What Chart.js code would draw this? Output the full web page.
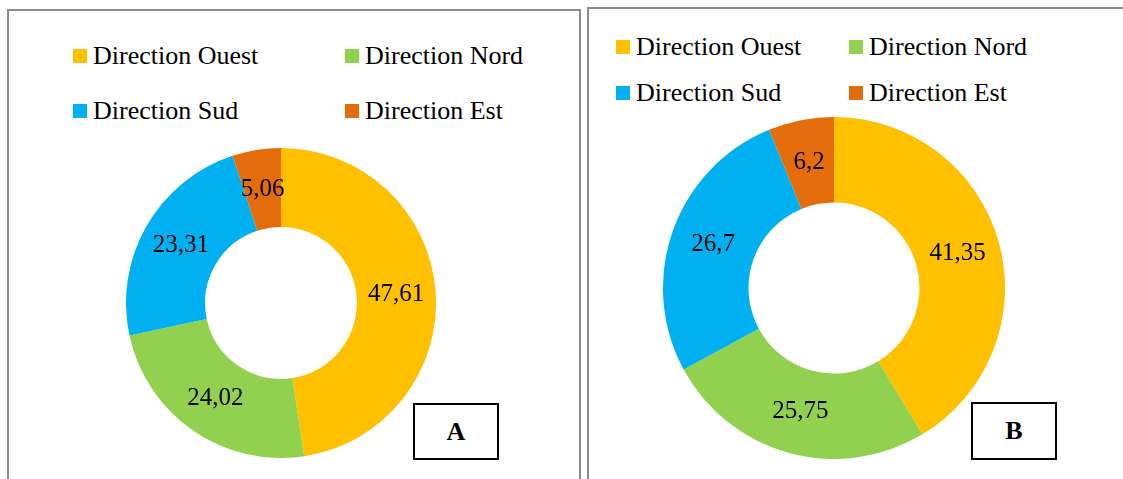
<!DOCTYPE html>
<html>
<head>
<meta charset="utf-8">
<script src="https://cdn.jsdelivr.net/npm/chart.js@4"></script>
<style>
  html, body { margin: 0; padding: 0; background: #fff; }
  body { width: 1123px; height: 479px; position: relative; overflow: hidden;
         font-family: 'Liberation Serif', 'Times New Roman', serif; }
  .panel { position: absolute; border: 2px solid #8c8c8c; box-sizing: border-box; background: #fff; }
  .chartbox { position: absolute; }
  .legend-item { position: absolute; display: flex; align-items: center; font-size: 26px; color: #000;
                 white-space: nowrap; line-height: 1; }
  .legend-item .sw { width: 14px; height: 14px; margin-right: 6px; flex: none; }
  .tag { position: absolute; border: 2px solid #000; box-sizing: border-box; background: #fff;
         display: flex; align-items: center; justify-content: center;
         font-weight: bold; font-size: 26px; }
</style>
</head>
<body>
<div class="panel" style="left:7px; top:9px; width:574px; height:490px;"></div>
<div class="panel" style="left:587px; top:7px; width:560px; height:490px;"></div>

<canvas id="chartA" class="chartbox" style="left:126px; top:148px;" width="310" height="310"></canvas>
<canvas id="chartB" class="chartbox" style="left:663px; top:117px;" width="342" height="342"></canvas>

<div class="tag" style="left:413px; top:403px; width:86px; height:57px;">A</div>
<div class="tag" style="left:971px; top:402px; width:86px; height:58px;">B</div>

<script>
// categories and values read from the two doughnuts
const categories = ['Direction Ouest', 'Direction Nord', 'Direction Sud', 'Direction Est'];
const valuesA = [47.61, 24.02, 23.31, 5.06];
const valuesB = [41.35, 25.75, 26.7, 6.2];
const colors = ['#FFC000', '#92D050', '#00B0F0', '#E46C0A'];

// value labels in the middle of each slice, french decimal comma
const sliceLabels = {
    id: 'sliceLabels',
    afterDatasetsDraw(chart) {
        const ctx = chart.ctx;
        const ds = chart.data.datasets[0];
        ctx.save();
        ctx.font = '25px "Liberation Serif", "Times New Roman", serif';
        ctx.fillStyle = '#000';
        ctx.textAlign = 'center';
        ctx.textBaseline = 'middle';
        chart.getDatasetMeta(0).data.forEach((arc, i) => {
            const p = arc.tooltipPosition();
            ctx.fillText(String(ds.data[i]).replace('.', ','), p.x, p.y);
        });
        ctx.restore();
    }
};

function makeDonut(id, values, cutout) {
    return new Chart(document.getElementById(id).getContext('2d'), {
        type: 'doughnut',
        data: {
            labels: categories,
            datasets: [{
                data: values,
                backgroundColor: colors,
                borderWidth: 0,
            }]
        },
        options: {
            responsive: false,
            animation: false,
            devicePixelRatio: 1,
            cutout: cutout,
            layout: { padding: 0 },
            plugins: {
                legend: { display: false },
                tooltip: { enabled: false },
            },
        },
        plugins: [sliceLabels],
    });
}

makeDonut('chartA', valuesA, '49%');
makeDonut('chartB', valuesB, '50%');

// legends, two columns each
function makeLegend(cols, rows) {
    categories.forEach((name, i) => {
        const item = document.createElement('div');
        item.className = 'legend-item';
        item.style.left = cols[i % 2] + 'px';
        item.style.top = (rows[Math.floor(i / 2)] - 13) + 'px';
        const sw = document.createElement('span');
        sw.className = 'sw';
        sw.style.background = colors[i];
        const txt = document.createElement('span');
        txt.textContent = name;
        item.appendChild(sw);
        item.appendChild(txt);
        document.body.appendChild(item);
    });
}
makeLegend([73, 345], [56, 111]);
makeLegend([616, 849], [47, 93]);
</script>
</body>
</html>
